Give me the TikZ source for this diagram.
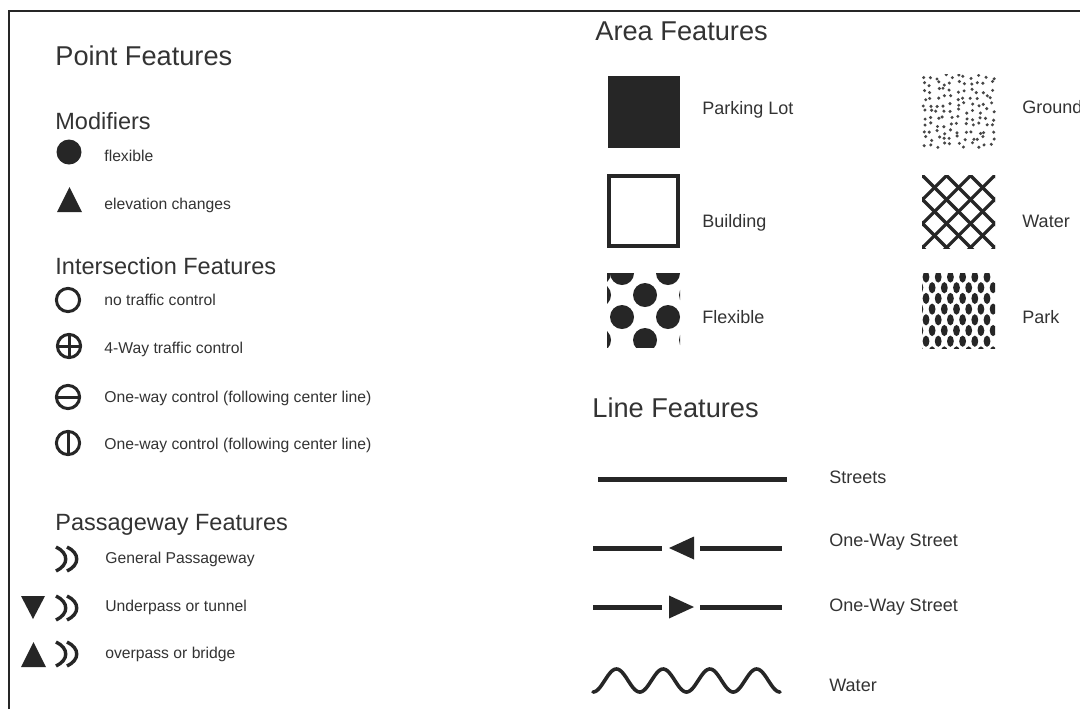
\documentclass[tikz,border=0pt]{standalone}
\usepackage{fontspec}
\setmainfont{Liberation Sans}
\definecolor{ink}{HTML}{262626}
\definecolor{txt}{HTML}{333333}
\begin{document}
\begin{tikzpicture}[x=0.5pt,y=-0.5pt,
  head/.style={anchor=base west,inner sep=0pt,text=txt,font=\fontsize{13.6}{16}\selectfont},
  sub/.style={anchor=base west,inner sep=0pt,text=txt,font=\fontsize{11.75}{14}\selectfont},
  small/.style={anchor=base west,inner sep=0pt,text=txt,font=\fontsize{7.85}{9.5}\selectfont},
  lab/.style={anchor=base west,inner sep=0pt,text=txt,font=\fontsize{9}{11}\selectfont},
  ring/.style={draw=ink,line width=1.5pt},
  road/.style={draw=ink,line width=2.5pt},
  passline/.style={draw=ink,line width=1.7pt},
]
\clip (0,0) rectangle (1080,709);
\fill[white] (0,0) rectangle (1080,709);
% frame
\draw[ink,line width=1pt] (9,709) -- (9,11) -- (1080,11);

% ---------------- Point features ----------------
\node[head] (pointhead) at (55,65) {Point Features};
\node[sub] (modhead) at (55,129) {Modifiers};
\fill[ink] (69,152) circle (6.25pt);
\node[small] (flex) at (104,161) {flexible};
\fill[ink] (57,212) -- (82,212) -- (69.5,187) -- cycle;
\node[small] (elev) at (104,209) {elevation changes};

\node[sub] (interhead) at (55,274) {Intersection Features};
\draw[ring] (68,300) circle (5.8pt);
\node[small] (notraffic) at (104,305) {no traffic control};
\draw[ring] (69,346) circle (5.8pt);
\draw[ring] (57.4,346) -- (80.6,346) (69,334.4) -- (69,357.6);
\node[small] (fourway) at (104,353) {4-Way traffic control};
\draw[ring] (68,397) circle (5.8pt);
\draw[ring] (56.4,397) -- (79.6,397);
\node[small] (oneway1) at (104,402) {One-way control (following center line)};
\draw[ring] (68,443) circle (5.8pt);
\draw[ring] (68,431.4) -- (68,454.6);
\node[small] (oneway2) at (104,449) {One-way control (following center line)};

% ---------------- Passageway features ----------------
\node[sub] (passhead) at (55,530) {Passageway Features};
\foreach \cy in {559,608,654}{
  \draw[passline] (56,\cy-12) .. controls (69,\cy-6) and (69,\cy+6) .. (56,\cy+12);
  \draw[passline] (67,\cy-12) .. controls (80,\cy-6) and (80,\cy+6) .. (67,\cy+12);
}
\node[small] (general) at (105,563) {General Passageway};
\fill[ink] (21,596) -- (45,596) -- (33,619) -- cycle;
\node[small] (under) at (105,611) {Underpass or tunnel};
\fill[ink] (21,667) -- (46,667) -- (33.5,642) -- cycle;
\node[small] (over) at (105,658) {overpass or bridge};

% ---------------- Area features ----------------
\node[head] (areahead) at (595,40) {Area Features};
% parking lot
\fill[ink] (608,76) rectangle (680,148);
\node[lab] (parking) at (702,114) {Parking Lot};
% building
\draw[ink,line width=2pt] (609,176) rectangle (678,246);
\node[lab] (building) at (702,227) {Building};
% flexible dots
\begin{scope}
  \clip (607,273) rectangle (680,347);
  \foreach \px/\py in {599/273,622/273,668/273,645/295,599/295,691/295,
                       622/317,668/317,645/340,599/340,691/340}
    \fill[ink] (\px,\py) circle (6pt);
\end{scope}
\node[lab] (flexible) at (702,323) {Flexible};

% ground speckle
\pgfmathsetseed{7}
\begin{scope}
  \clip (921,74) rectangle (996,149);
  \foreach \i in {0,...,10}{
    \foreach \j in {0,...,10}{
      \pgfmathsetmacro\gx{924+6.8*\i+2.4*rand}
      \pgfmathsetmacro\gy{77+6.8*\j+2.4*rand}
      \fill[ink!85] (\gx,\gy) circle (0.85pt);
    }
  }
\end{scope}
\node[lab] (ground) at (1022,113) {Ground};

% water crosshatch
\begin{scope}
  \clip (922,175) rectangle (995,248);
  \foreach \k in {-5,...,4}{
    \draw[ink,line width=1.6pt] (922+24*\k,175) -- ++(80,80);
    \draw[ink,line width=1.6pt] (995-24*\k,175) -- ++(-80,80);
  }
\end{scope}
\node[lab] (waterarea) at (1022,227) {Water};

% park lenses
\begin{scope}
  \clip (922,273) rectangle (995,348);
  \foreach \r in {0,...,7}{
    \pgfmathsetmacro\off{mod(\r,2)*6.1}
    \foreach \c in {-1,...,6}{
      \fill[ink] (926+12.2*\c+\off,277+10.7*\r) ellipse (1.7pt and 2.8pt);
    }
  }
\end{scope}
\node[lab] (park) at (1022,323) {Park};

% ---------------- Line features ----------------
\node[head] (linehead) at (592,417) {Line Features};
\draw[road] (598,479) -- (787,479);
\node[lab] (streets) at (829,483) {Streets};

\draw[road] (593,548) -- (662,548) (700,548) -- (782,548);
\fill[ink] (669,548) -- (694,536.5) -- (694,559.5) -- cycle;
\node[lab] (oneway3) at (829,546) {One-Way Street};

\draw[road] (593,607) -- (662,607) (700,607) -- (782,607);
\fill[ink] (694,607) -- (669,595.5) -- (669,618.5) -- cycle;
\node[lab] (oneway4) at (829,611) {One-Way Street};

\draw[ink,line width=1.8pt,line cap=round]
  plot[domain=593:780,samples=160,smooth] (\x,{680.5+11.5*cos(((\x-593)/46.75)*360)});
\node[lab] (waterline) at (829,691) {Water};
\end{tikzpicture}
\end{document}
